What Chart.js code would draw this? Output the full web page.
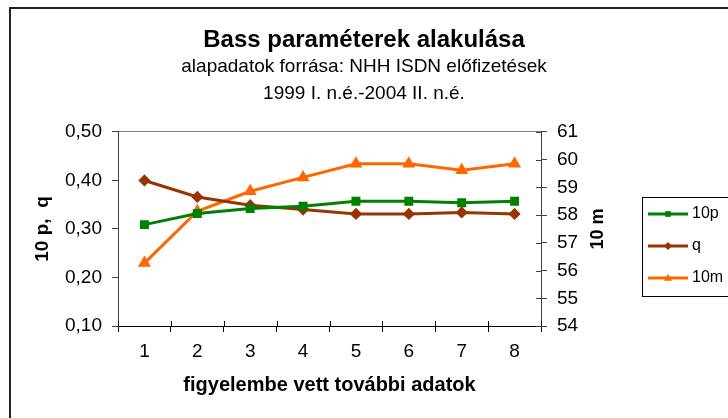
<!DOCTYPE html>
<html>
<head>
<meta charset="utf-8">
<script src="https://cdn.jsdelivr.net/npm/chart.js@4/dist/chart.umd.min.js"></script>
<style>
html,body{margin:0;padding:0;background:#fff;}
#wrap{width:728px;height:418px;position:relative;}
</style>
</head>
<body>
<div id="wrap"><canvas id="c" width="728" height="418"></canvas></div>
<script>
const categories = ['1','2','3','4','5','6','7','8'];
const p10 = [0.309, 0.332, 0.342, 0.347, 0.357, 0.357, 0.354, 0.357];
const q = [0.400, 0.366, 0.349, 0.340, 0.331, 0.331, 0.334, 0.331];
const m10 = [56.27, 58.14, 58.86, 59.36, 59.85, 59.85, 59.62, 59.85];
const seriesNames = ['10p', 'q', '10m'];
const titleText = 'Bass paraméterek alakulása';
const subtitleLines = ['alapadatok forrása: NHH ISDN előfizetések', '1999 I. n.é.-2004 II. n.é.'];
const xTitle = 'figyelembe vett további adatok';
const yLeftTitle = '10 p,  q';
const yRightTitle = '10 m';

const colors = ['#008000', '#993300', '#FF6600'];
const styles = ['rect', 'rectRot', 'triangle'];

Chart.defaults.font.family = "'Liberation Sans', Arial, sans-serif";
Chart.defaults.color = '#000';

function drawMarker(ctx, style, x, y, r, color) {
  ctx.save();
  ctx.fillStyle = color;
  ctx.beginPath();
  if (style === 'rect') {
    const s = r * Math.SQRT1_2;
    ctx.rect(x - s, y - s, 2 * s, 2 * s);
  } else if (style === 'rectRot') {
    ctx.moveTo(x, y - r); ctx.lineTo(x + r, y); ctx.lineTo(x, y + r); ctx.lineTo(x - r, y);
  } else {
    ctx.moveTo(x, y - r); ctx.lineTo(x + r, y + r * 0.7); ctx.lineTo(x - r, y + r * 0.7);
  }
  ctx.closePath();
  ctx.fill();
  ctx.restore();
}

const framePlugin = {
  id: 'frame',
  beforeDraw(chart) {
    const ctx = chart.ctx;
    ctx.save();
    ctx.fillStyle = '#fff';
    ctx.fillRect(0, 0, chart.width, chart.height);
    ctx.strokeStyle = '#222';
    ctx.lineWidth = 2;
    ctx.strokeRect(10, 8, 800, 500);
    ctx.restore();
  },
  afterDraw(chart) {
    const ctx = chart.ctx;
    const area = chart.chartArea;
    // inner halves of the crossing tick marks (right and bottom axes)
    ctx.save();
    ctx.lineWidth = 1;
    const y2 = chart.scales.y2;
    ctx.strokeStyle = '#404040';
    y2.ticks.forEach(t => {
      const py = Math.round(y2.getPixelForValue(t.value)) + 0.5;
      ctx.beginPath(); ctx.moveTo(area.right - 5, py); ctx.lineTo(area.right, py); ctx.stroke();
    });
    const xs = chart.scales.x;
    ctx.strokeStyle = '#000';
    for (let i = 0; i <= categories.length; i++) {
      const px = Math.round(xs.getPixelForValue(i - 0.5)) + 0.5;
      ctx.beginPath(); ctx.moveTo(px, area.bottom - 5); ctx.lineTo(px, area.bottom); ctx.stroke();
    }
    ctx.restore();
    // right axis title, rotated like the left one
    ctx.save();
    ctx.font = "bold 18px 'Liberation Sans', Arial, sans-serif";
    ctx.fillStyle = '#000';
    ctx.textAlign = 'center';
    ctx.textBaseline = 'middle';
    ctx.translate(598, (area.top + area.bottom) / 2);
    ctx.rotate(-Math.PI / 2);
    ctx.fillText(yRightTitle, 0, 0);
    ctx.restore();
    // legend
    ctx.save();
    ctx.strokeStyle = '#000';
    ctx.lineWidth = 1;
    ctx.strokeRect(642.5, 197.5, 110, 99);
    ctx.font = "16px 'Liberation Sans', Arial, sans-serif";
    ctx.fillStyle = '#000';
    ctx.textBaseline = 'middle';
    chart.data.datasets.forEach((ds, i) => {
      const y = 214 + i * 32;
      ctx.strokeStyle = ds.borderColor;
      ctx.lineWidth = 3;
      ctx.beginPath();
      ctx.moveTo(648, y); ctx.lineTo(688, y);
      ctx.stroke();
      drawMarker(ctx, styles[i], 668, y, 4, ds.borderColor);
      ctx.fillStyle = '#000';
      ctx.fillText(ds.label, 692, y);
    });
    ctx.restore();
  }
};

const fmt = v => v.toFixed(2).replace('.', ',');

new Chart(document.getElementById('c'), {
  type: 'line',
  data: {
    labels: categories,
    datasets: [
      { label: seriesNames[0], data: p10, yAxisID: 'y', borderColor: colors[0], backgroundColor: colors[0], pointStyle: styles[0], pointRadius: 4.2, borderWidth: 3, tension: 0 },
      { label: seriesNames[1], data: q, yAxisID: 'y', borderColor: colors[1], backgroundColor: colors[1], pointStyle: styles[1], pointRadius: 4, borderWidth: 3, tension: 0 },
      { label: seriesNames[2], data: m10, yAxisID: 'y2', borderColor: colors[2], backgroundColor: colors[2], pointStyle: styles[2], pointRadius: 4.5, borderWidth: 3, tension: 0 }
    ]
  },
  options: {
    responsive: false,
    animation: false,
    layout: { padding: 0 },
    plugins: {
      legend: { display: false },
      tooltip: { enabled: false },
      title: {
        display: true,
        text: titleText,
        font: { size: 24, weight: 'bold', lineHeight: 1.0 },
        padding: { top: 28, bottom: 0 },
        color: '#000'
      },
      subtitle: {
        display: true,
        text: subtitleLines,
        font: { size: 19, lineHeight: 1.42 },
        padding: { top: 1, bottom: 25 },
        color: '#000'
      }
    },
    scales: {
      x: {
        type: 'category',
        offset: true,
        grid: { display: true, drawOnChartArea: false, offset: true, color: '#000', tickColor: '#000', tickLength: 6 },
        border: { color: '#000', width: 1 },
        ticks: { font: { size: 19 }, padding: 8, color: '#000' },
        title: { display: true, text: xTitle, font: { size: 20, weight: 'bold' }, padding: { top: 0, bottom: 21 }, color: '#000' },
        afterFit(scale) { scale.height = 92; }
      },
      y: {
        position: 'left',
        min: 0.1, max: 0.5,
        ticks: { stepSize: 0.1, callback: v => fmt(v), font: { size: 19 }, padding: 10, color: '#000' },
        grid: { color: ctx => (ctx.tick && Math.abs(ctx.tick.value - 0.5) < 1e-9) ? '#808080' : 'rgba(0,0,0,0)', tickColor: '#404040', tickLength: 6 },
        border: { color: '#404040', width: 1 },
        title: { display: true, text: yLeftTitle, font: { size: 19, weight: 'bold' }, padding: { top: 31 }, color: '#000' },
        afterFit(scale) { scale.width = 118; }
      },
      y2: {
        position: 'right',
        min: 54, max: 61,
        ticks: { stepSize: 1, font: { size: 19 }, padding: 10, color: '#000' },
        grid: { drawOnChartArea: false, tickColor: '#404040', tickLength: 6 },
        border: { color: '#404040', width: 1 },
        afterFit(scale) { scale.width = 187; }
      }
    }
  },
  plugins: [framePlugin]
});
</script>
</body>
</html>
